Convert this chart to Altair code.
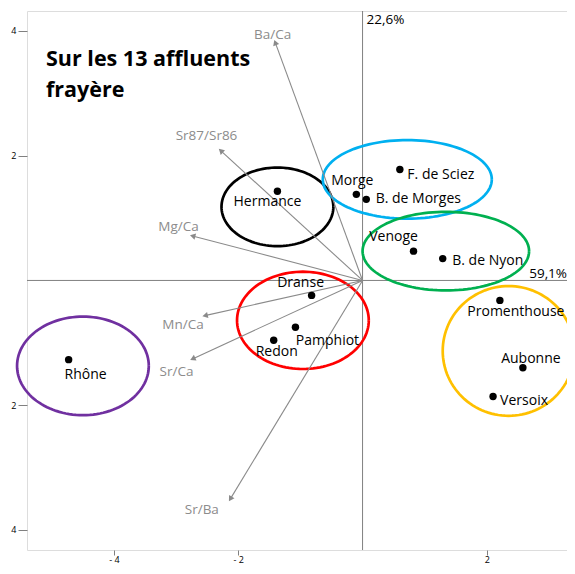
import altair as alt
import pandas as pd
import numpy as np

# ---- data ----
sites = ["Hermance", "Morge", "B. de Morges", "F. de Sciez", "Venoge", "B. de Nyon",
         "Promenthouse", "Aubonne", "Versoix", "Dranse", "Pamphiot", "Redon", "Rhône"]
site_x = [-1.37, -0.10, 0.06, 0.60, 0.82, 1.29, 2.21, 2.58, 2.10, -0.82, -1.08, -1.43, -4.73]
site_y = [1.43, 1.38, 1.30, 1.78, 0.47, 0.35, -0.32, -1.40, -1.86, -0.24, -0.75, -0.96, -1.27]

variables = ["Ba/Ca", "Sr87/Sr86", "Mg/Ca", "Mn/Ca", "Sr/Ca", "Sr/Ba"]
var_x = [-1.40, -2.27, -2.72, -2.52, -2.72, -2.12]
var_y = [3.80, 2.07, 0.71, -0.56, -1.25, -3.49]

groups = ["Hermance", "Léman N", "Léman centre", "Sud", "Rhône", "Ouest"]
group_cx = [-1.37, 0.72, 1.34, -0.96, -4.50, 2.35]
group_cy = [1.18, 1.62, 0.47, -0.64, -1.37, -1.13]
group_rx = [0.90, 1.36, 1.34, 1.06, 1.06, 1.06]
group_ry = [0.63, 0.63, 0.63, 0.78, 0.79, 1.04]

x_ticks = [-4, -2, 2]
y_ticks = [-4, -2, 2, 4]
axis_pcts = ["22,6%", "59,1%"]

# ---- styling ----
group_colors = ["#000000", "#00b0f0", "#00b050", "#ff0000", "#7030a0", "#ffc000"]
site_label_off = [(-10, 11), (-4, -13), (52, 0), (41, 6), (-20, -14), (45, 2),
                  (16, 12), (8, -9), (31, 5), (-11, -12), (32, 14), (3, 12), (17, 15)]
var_label_off = [(-3, -8), (-15, -15), (-15, -9), (-23, 10), (-17, 14), (-29, 12)]

W = 540
SX = W / (3.29 + 5.40)
SY = 542 / (4.32 + 4.37)
H = 539
XDOM = [-5.40, 3.29]
YDOM = [-4.37 + 3 / SY, 4.32]
FONT = "Open Sans"

xs = alt.Scale(domain=XDOM, nice=False, zero=False)
ys = alt.Scale(domain=YDOM, nice=False, zero=False)

x_axis = alt.Axis(values=x_ticks, title=None, grid=False, domain=False, tickColor="#808080",
                  tickSize=5, labelFontSize=9, labelColor="#000", labelFont=FONT, labelPadding=0,
                  labelExpr="datum.value < 0 ? '- ' + abs(datum.value) : datum.label")
y_axis = alt.Axis(values=y_ticks, title=None, grid=False, domain=False, tickColor="#808080",
                  tickSize=9, labelFontSize=9, labelColor="#000", labelFont=FONT, labelPadding=2,
                  labelExpr="'' + abs(datum.value)")

sites_df = pd.DataFrame({"name": sites, "x": site_x, "y": site_y})
sites_df["lx"] = [x + o[0] / SX for x, o in zip(site_x, site_label_off)]
sites_df["ly"] = [y - o[1] / SY for y, o in zip(site_y, site_label_off)]

vars_df = pd.DataFrame({"name": variables, "x": var_x, "y": var_y, "x0": 0.0, "y0": 0.0})
vars_df["lx"] = [x + o[0] / SX for x, o in zip(var_x, var_label_off)]
vars_df["ly"] = [y - o[1] / SY for y, o in zip(var_y, var_label_off)]
vars_df["ang"] = [(np.degrees(np.arctan2(x * SX, y * SY)) + 360) % 360 for x, y in zip(var_x, var_y)]

rows = []
t = np.linspace(0, 2 * np.pi, 121)
for g, cx, cy, rx, ry in zip(groups, group_cx, group_cy, group_rx, group_ry):
    for i, a in enumerate(t):
        rows.append({"g": g, "i": i, "x": cx + rx * np.cos(a), "y": cy + ry * np.sin(a)})
ell_df = pd.DataFrame(rows)


def X(f="x"):
    return alt.X(f, type="quantitative", scale=xs, axis=x_axis)


def Y(f="y"):
    return alt.Y(f, type="quantitative", scale=ys, axis=y_axis)


zero_v = alt.Chart(pd.DataFrame({"x": [0.0]})).mark_rule(color="#808080", strokeWidth=1).encode(x=X())
zero_h = alt.Chart(pd.DataFrame({"y": [0.0]})).mark_rule(color="#808080", strokeWidth=1).encode(y=Y())

ellipses = alt.Chart(ell_df).mark_line(strokeWidth=2.7, clip=False).encode(
    x=X(), y=Y(), order="i:Q", detail="g:N",
    color=alt.Color("g:N", scale=alt.Scale(domain=groups, range=group_colors), legend=None),
)

arrows = alt.Chart(vars_df).mark_rule(color="#8a8a8a", strokeWidth=1.1).encode(
    x=X("x0"), y=Y("y0"), x2="x", y2="y")
heads = alt.Chart(vars_df).mark_point(shape="triangle", filled=True, color="#8a8a8a",
                                      size=40, opacity=1).encode(
    x=X(), y=Y(), angle=alt.Angle("ang:Q", scale=None))
var_labels = alt.Chart(vars_df).mark_text(font=FONT, fontSize=13.5, color="#8c8c8c",
                                          baseline="middle").encode(
    x=X("lx"), y=Y("ly"), text="name:N")

dots = alt.Chart(sites_df).mark_point(filled=True, color="#000", size=55, opacity=1).encode(
    x=X(), y=Y())
site_labels = alt.Chart(sites_df).mark_text(font=FONT, fontSize=14, color="#000",
                                            baseline="middle").encode(
    x=X("lx"), y=Y("ly"), text="name:N")

title = alt.Chart(pd.DataFrame({"t": ["Sur les 13 affluents\nfrayère"]})).mark_text(
    font=FONT, fontSize=21.5, fontWeight="bold", color="#000", align="left",
    baseline="alphabetic", lineBreak="\n", lineHeight=31).encode(
    x=alt.value(19), y=alt.value(55), text="t:N")

pct_top = alt.Chart(pd.DataFrame({"t": [axis_pcts[0]], "x": [0.0], "y": [YDOM[1]]})).mark_text(
    font=FONT, fontSize=13.5, color="#000", align="left", baseline="top", dx=4, dy=2).encode(
    x=X(), y=Y(), text="t:N")
pct_right = alt.Chart(pd.DataFrame({"t": [axis_pcts[1]], "x": [XDOM[1]], "y": [0.0]})).mark_text(
    font=FONT, fontSize=13.5, color="#000", align="right", baseline="bottom", dx=0, dy=1).encode(
    x=X(), y=Y(), text="t:N")

chart = alt.layer(zero_v, zero_h, ellipses, arrows, heads, var_labels, dots, site_labels,
                  title, pct_top, pct_right).properties(
    width=W, height=H, autosize=alt.AutoSizeParams(type="none"),
    padding={"left": 19, "top": 3, "right": 0, "bottom": 16},
).configure_view(stroke="#808080", strokeWidth=1).configure(background="white")

chart.save("out.html", embed_options={"renderer": "svg", "actions": False})
